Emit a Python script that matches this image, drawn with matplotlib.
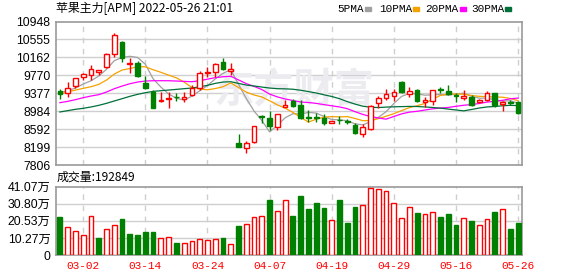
import numpy as np
import pandas as pd
import matplotlib
matplotlib.use("Agg")
import matplotlib.pyplot as plt
from matplotlib.patches import Rectangle

# trading days shown (MM-DD)
dates = ["02-25", "02-28", "03-01", "03-02", "03-03", "03-04", "03-07", "03-08",
         "03-09", "03-10", "03-11", "03-14", "03-15", "03-16", "03-17", "03-18",
         "03-21", "03-22", "03-23", "03-24", "03-25", "03-28", "03-29", "03-30",
         "03-31", "04-01", "04-06", "04-07", "04-08", "04-11", "04-12", "04-13",
         "04-14", "04-15", "04-18", "04-19", "04-20", "04-21", "04-22", "04-25",
         "04-26", "04-27", "04-28", "04-29", "05-05", "05-06", "05-09", "05-10",
         "05-11", "05-12", "05-13", "05-16", "05-17", "05-18", "05-19", "05-20",
         "05-23", "05-24", "05-25", "05-26"]

opens = [9421, 9378, 9530, 9741, 9770, 9850, 9945, 10228, 10490, 10010,
         10047, 9610, 9414, 9211, 9254, 9300, 9247, 9341, 9487, 9828,
         9836, 10061, 9872, 8295, 8193, 8309, 8876, 8832, 8650, 9072,
         9218, 9123, 8854, 8860, 8847, 8723, 8800, 8781, 8687, 8484,
         8593, 9160, 9283, 9327, 9625, 9363, 9450, 9181, 9203, 9465,
         9428, 9341, 9268, 9305, 9181, 9232, 9378, 9138, 9180, 9181]
highs = [9472, 9625, 9719, 9814, 9988, 9887, 10265, 10694, 10526, 10141,
         10090, 9756, 9450, 9414, 9414, 9378, 9414, 9552, 9872, 9945,
         10032, 10148, 10047, 8484, 8345, 8665, 8912, 8992, 8934, 9232,
         9247, 9232, 9014, 8941, 8934, 8774, 8891, 8818, 8738, 8709,
         9123, 9320, 9465, 9465, 9647, 9523, 9472, 9290, 9450, 9523,
         9559, 9378, 9450, 9341, 9254, 9428, 9392, 9210, 9232, 9203]
lows = [9254, 9305, 9501, 9668, 9668, 9777, 9923, 10177, 10068, 9829,
        9741, 9465, 9065, 9196, 9051, 9210, 9196, 9320, 9450, 9741,
        9741, 9887, 9777, 8214, 8084, 8302, 8723, 8578, 8578, 9072,
        9072, 8818, 8760, 8760, 8687, 8723, 8701, 8701, 8491, 8432,
        8578, 9051, 9232, 9218, 9392, 9305, 9181, 9072, 9130, 9378,
        9341, 9196, 9232, 9109, 9159, 9210, 9087, 8999, 9123, 8927]
closes = [9363, 9501, 9705, 9792, 9901, 9879, 10236, 10650, 10141, 10032,
          9756, 9494, 9065, 9232, 9276, 9290, 9290, 9501, 9814, 9843,
          10017, 9901, 9901, 8214, 8287, 8658, 8861, 8665, 8920, 9116,
          9101, 8832, 8840, 8850, 8738, 8774, 8790, 8745, 8505, 8636,
          9109, 9269, 9363, 9407, 9414, 9428, 9210, 9232, 9443, 9450,
          9363, 9325, 9320, 9123, 9232, 9378, 9116, 9189, 9170, 8956]

# volume in 万 (10k lots); 1 = red (up), 0 = green (down)
volume_wan = [22.9, 17.0, 14.5, 12.0, 23.3, 10.3, 15.9, 18.2, 21.6, 12.8,
              12.2, 14.0, 14.0, 10.1, 10.7, 7.1, 7.5, 8.2, 9.6, 9.0,
              9.6, 10.3, 6.9, 17.2, 18.9, 22.6, 23.3, 32.9, 26.6, 33.3,
              23.6, 35.4, 27.9, 31.0, 28.5, 21.0, 32.9, 19.1, 29.1, 30.2,
              40.3, 39.6, 38.6, 31.4, 22.0, 28.9, 25.4, 24.5, 25.8, 22.9,
              24.7, 17.8, 22.0, 20.3, 18.2, 21.4, 26.0, 27.7, 15.9, 19.2849]
vol_up = [0, 1, 1, 1, 1, 0, 1, 1, 0, 0, 0, 0, 0, 1, 1, 0, 1, 1, 1, 1,
          1, 0, 1, 0, 1, 1, 1, 0, 1, 1, 0, 0, 0, 0, 0, 1, 0, 0, 0, 1,
          1, 1, 1, 1, 1, 1, 0, 1, 1, 0, 0, 0, 1, 0, 1, 1, 0, 1, 0, 0]

ma5_head = [9392, 9436, 9494, 9581]
ma10_head = [9363, 9407, 9450, 9487, 9523, 9574, 9668, 9799, 9887]
ma20_head = [9174, 9203, 9240, 9283, 9319, 9349, 9407, 9479, 9537, 9588,
             9625, 9647, 9654, 9654, 9654, 9647, 9640, 9632, 9654]
ma30_head = [8971, 9000, 9029, 9051, 9080, 9116, 9160, 9211, 9261, 9312,
             9356, 9392, 9421, 9436, 9450, 9465, 9480, 9494, 9523, 9552,
             9596, 9625, 9632, 9596, 9559, 9539, 9516, 9494, 9480]

price_ticks = [7806, 8199, 8592, 8984, 9377, 9770, 10162, 10555, 10948]
vol_ticks = [0, 102700, 205300, 308000, 410700]
vol_tick_labels = ["0", "10.27万", "20.53万", "30.80万", "41.07万"]

title = "苹果主力[APM] 2022-05-26 21:01"
vol_title = "成交量:192849"
ma_names = ["5PMA", "10PMA", "20PMA", "30PMA"]

RED = "#ff0000"
GREEN = "#008000"
MA_COLORS = ["#a0a0a0", "#f5a200", "#ff00ff", "#00703a"]
GRID = "#cfcfcf"
FRAME = "#9a9a9a"
CJK = ["Noto Sans CJK SC", "DejaVu Sans"]
NUM = ["Liberation Sans", "Noto Sans CJK SC"]
MONO = ["Liberation Mono", "DejaVu Sans Mono"]


def moving_average(vals, n, head):
    ma = pd.Series(vals, dtype=float).rolling(n).mean()
    ma.iloc[:n - 1] = head
    return ma.values


def style_axes(ax):
    for s in ax.spines.values():
        s.set_color(FRAME)
        s.set_linewidth(1.2)
    ax.tick_params(length=0, pad=4)
    ax.set_xlim(-0.5, len(dates) - 0.5)


def main():
    W, H = 578, 276
    fig = plt.figure(figsize=(W / 100, H / 100), dpi=100)
    ax = fig.add_axes([56 / W, 1 - 165.3 / H, 466 / W, 143.8 / H])
    axv = fig.add_axes([56 / W, 1 - 255 / H, 466 / W, 68.3 / H])

    x = np.arange(len(dates))
    o = np.array(opens, float)
    c = np.array(closes, float)
    up = c >= o
    tick_idx = list(range(3, len(dates), 8))

    # price panel
    style_axes(ax)
    ax.set_ylim(price_ticks[0], price_ticks[-1])
    ax.set_yticks(price_ticks)
    ax.set_yticklabels([str(t) for t in price_ticks], family=NUM, fontsize=8.8)
    ax.set_xticks([])
    for t in price_ticks[1:-1]:
        ax.axhline(t, color=GRID, lw=1, zorder=0)
    for i in tick_idx:
        ax.axvline(i, color=GRID, lw=1, ls=(0, (4, 4)), zorder=0)

    # watermark
    ax.text(0.51, 0.52, "东方财富", transform=ax.transAxes, ha="center",
            va="center", fontsize=29, family=CJK, weight="bold",
            color="#ececf0", zorder=0.5)

    for n, head, col in zip([5, 10, 20, 30], [ma5_head, ma10_head, ma20_head, ma30_head], MA_COLORS):
        ax.plot(x, moving_average(closes, n, head), color=col, lw=0.9, zorder=2)

    colors = np.where(up, RED, GREEN)
    ax.vlines(x, lows, highs, colors=colors, lw=1, zorder=3)
    bottoms = np.minimum(o, c)
    heights = np.maximum(np.abs(c - o), 8)
    ax.bar(x, heights, bottom=bottoms, width=0.6,
           color=np.where(up, "white", GREEN), edgecolor=colors, lw=1, zorder=4)

    # volume panel
    style_axes(axv)
    vols = np.array(volume_wan) * 1e4
    vup = np.array(vol_up) == 1
    axv.set_ylim(0, vol_ticks[-1])
    axv.set_yticks(vol_ticks)
    axv.set_yticklabels(vol_tick_labels, family=NUM, fontsize=8.8)
    axv.set_xticks(tick_idx)
    axv.set_xticklabels([dates[i] for i in tick_idx], family=MONO,
                        fontsize=8, color=RED)
    axv.tick_params(axis="x", pad=4)
    for t in vol_ticks[1:-1]:
        axv.axhline(t, color=GRID, lw=1, zorder=0)
    for i in tick_idx:
        axv.axvline(i, color=GRID, lw=1, ls=(0, (4, 4)), zorder=0)
    axv.bar(x, vols, width=0.62, color=np.where(vup, "white", GREEN),
            edgecolor=np.where(vup, RED, GREEN), lw=1, zorder=3)

    # header texts
    fig.text(56 / W, 1 - 8 / H, title, family=CJK, fontsize=8.6,
             ha="left", va="center")
    fig.text(57 / W, 1 - 177.5 / H, vol_title, family=CJK, fontsize=8.6,
             ha="left", va="center")
    text_x = [337, 379, 425, 471]
    box_x = [365, 413, 460, 505]
    for name, tx, bx, col in zip(ma_names, text_x, box_x, MA_COLORS):
        fig.text(tx / W, 1 - 8.5 / H, name, family=MONO, fontsize=8,
                 ha="left", va="center")
        fig.patches.append(Rectangle((bx / W, 1 - 11 / H), 6 / W, 4 / H,
                                     transform=fig.transFigure, color=col))

    fig.savefig("out.png", dpi=100)


if __name__ == '__main__':
    main()
